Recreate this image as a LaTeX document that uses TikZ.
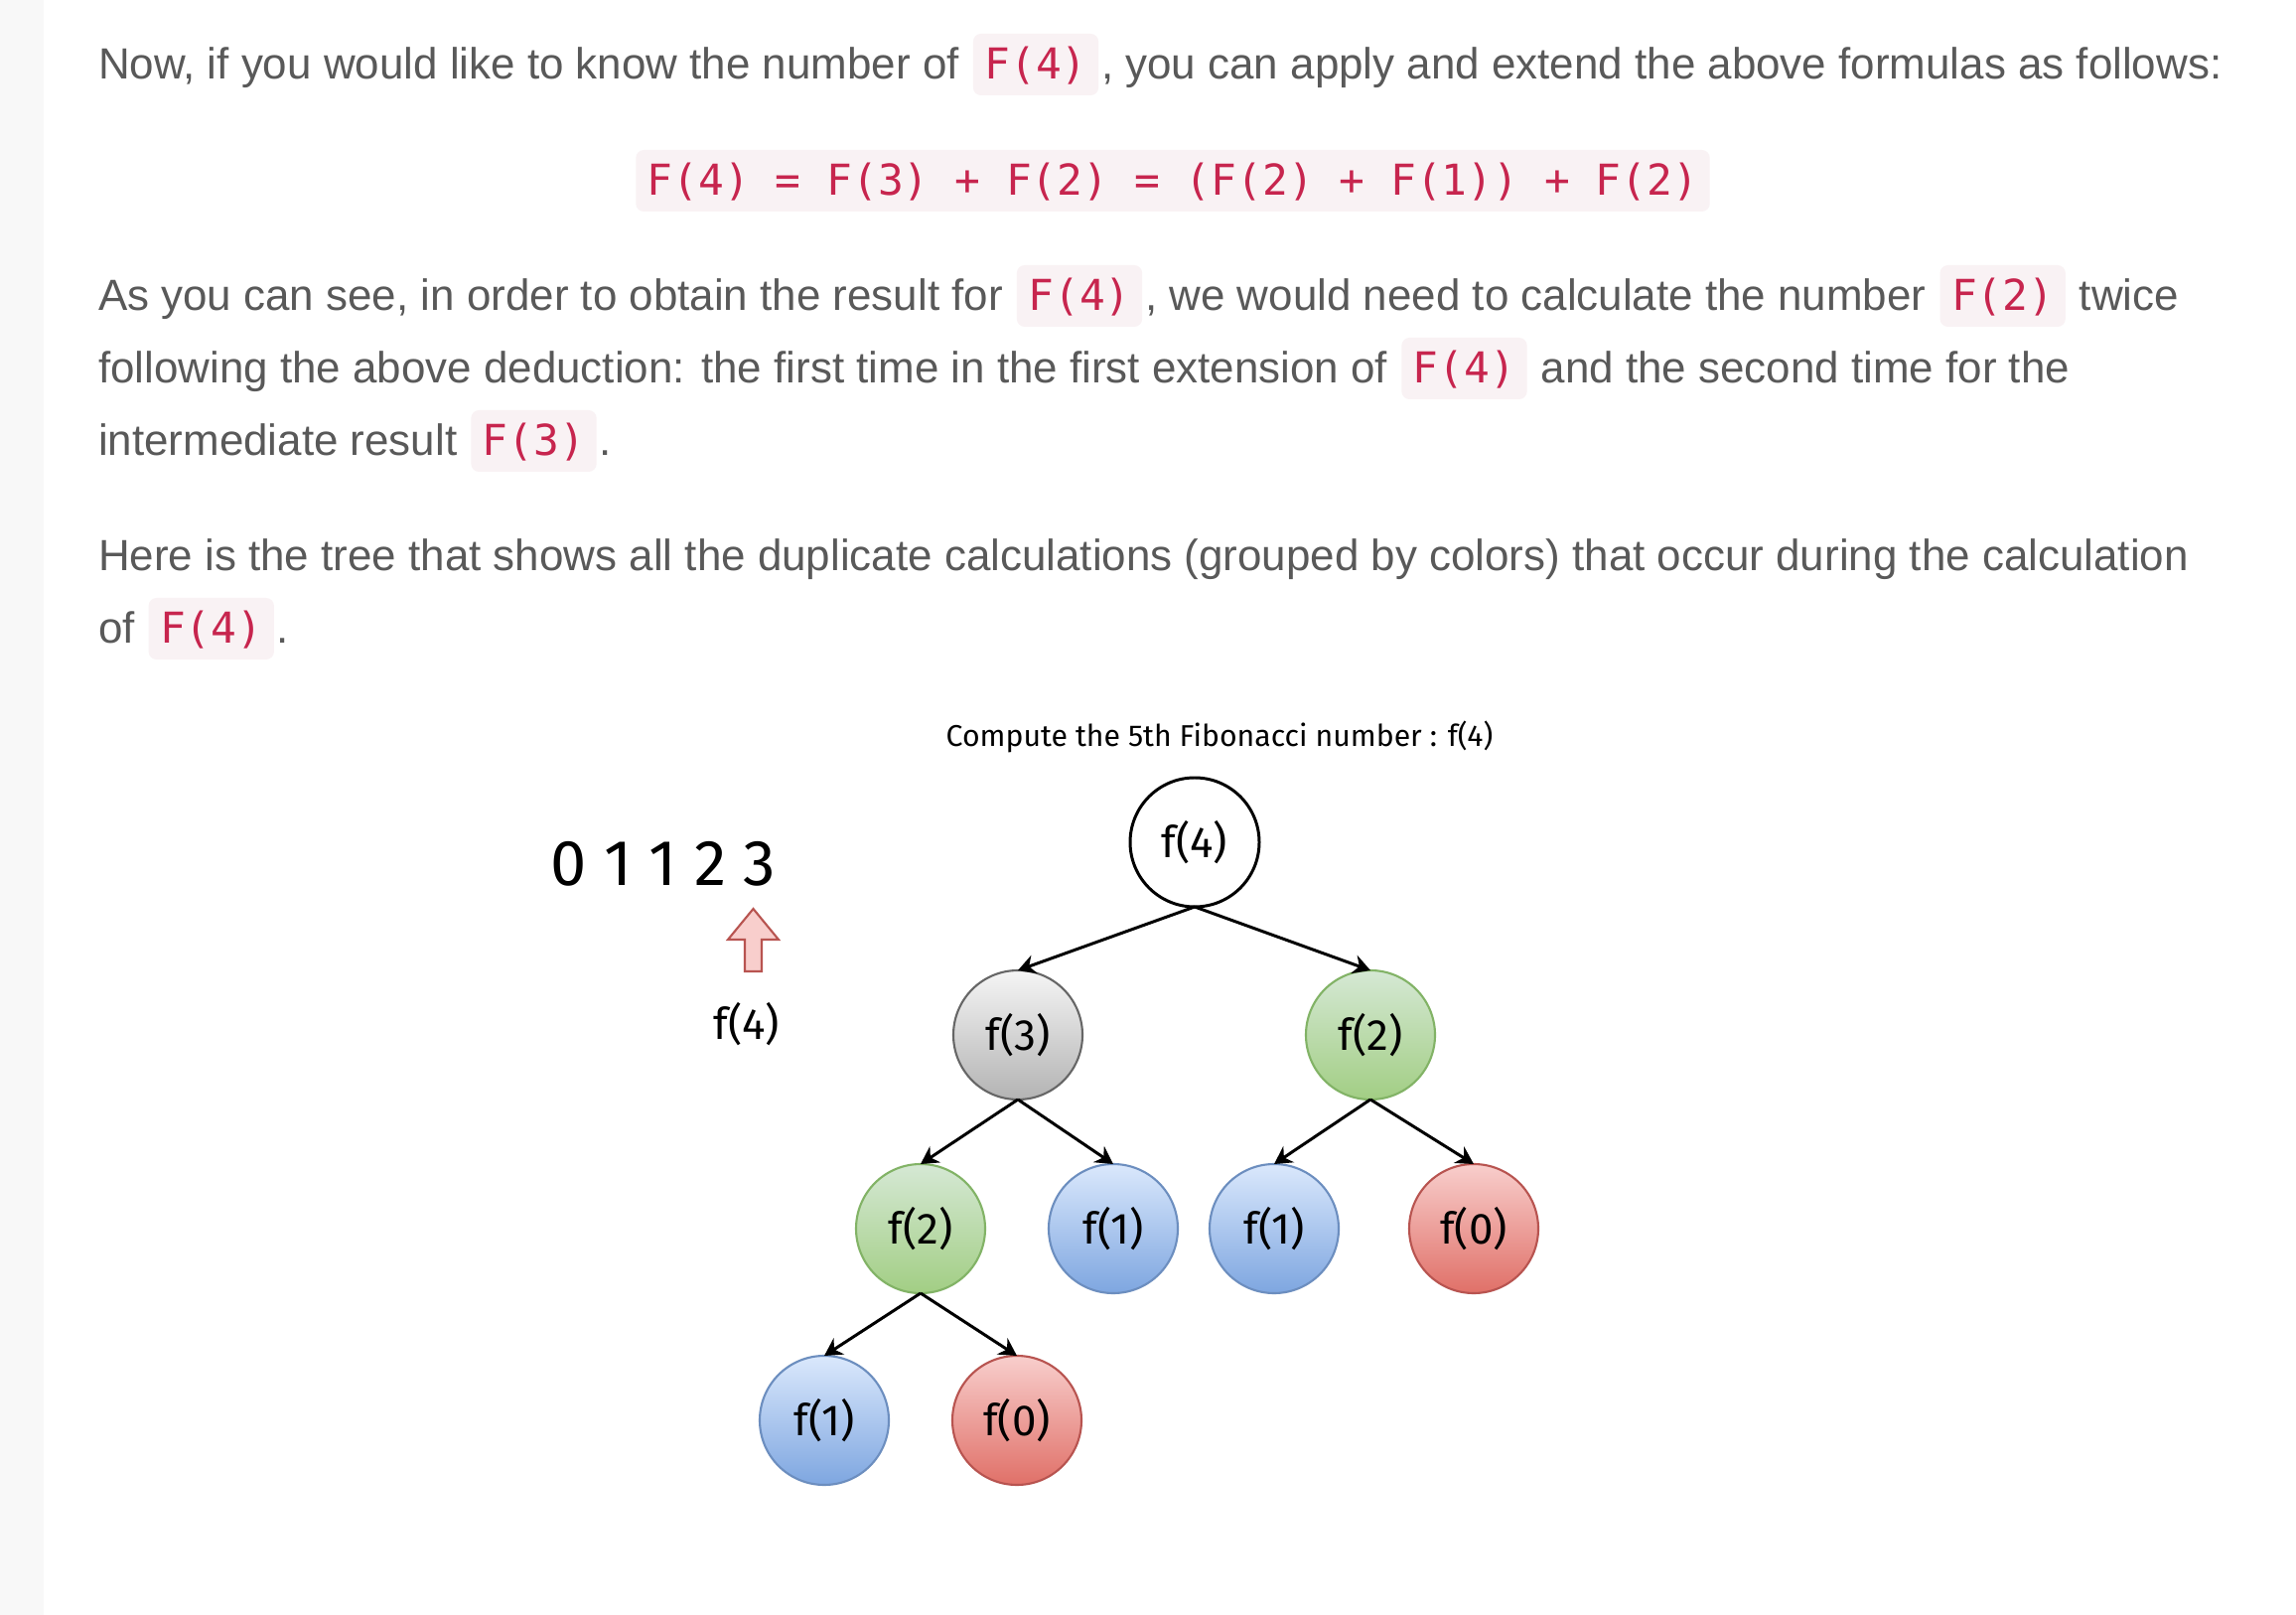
\documentclass[tikz,border=0pt]{standalone}
\usepackage{fontspec}
\setmainfont{Liberation Sans}
\setmonofont{DejaVu Sans Mono}
\newfontfamily\sketchfont{Fira Sans}
\usepackage{xcolor}
\usepackage{tikz}
\usetikzlibrary{positioning,arrows.meta,calc}

\definecolor{bodygray}{HTML}{595959}
\definecolor{codered}{HTML}{C7254E}
\definecolor{codebg}{HTML}{F9F2F4}
\definecolor{sidebar}{HTML}{F8F8F8}
\definecolor{greyline}{HTML}{666666}
\definecolor{greytop}{HTML}{F5F5F5}
\definecolor{greybot}{HTML}{B3B3B3}
\definecolor{greenline}{HTML}{82B366}
\definecolor{greentop}{HTML}{D5E8D4}
\definecolor{greenbot}{HTML}{A2CE84}
\definecolor{blueline}{HTML}{6C8EBF}
\definecolor{bluetop}{HTML}{DAE8FC}
\definecolor{bluebot}{HTML}{7EA6E0}
\definecolor{redline}{HTML}{B85450}
\definecolor{redtop}{HTML}{F8CECC}
\definecolor{redbot}{HTML}{E07068}

\begin{document}
\begin{tikzpicture}[
link/.style={-{Stealth[length=5pt,width=5.5pt]},line width=0.85pt},
every node/.style={outer sep=0pt}]

\tikzstyle{txt}=[inner sep=0pt, text=bodygray, font=\fontsize{12.5}{15}\selectfont]
\tikzstyle{code}=[fill=codebg, rounded corners=0.08cm, text=codered,
inner xsep=0.115cm, inner ysep=0pt, text height=0.46cm, text depth=0.16cm,
font=\ttfamily\fontsize{12.2}{15}\selectfont]
\tikzstyle{fib}=[circle, minimum size=1.3cm, inner sep=0pt, line width=0.6pt,
on grid, font=\sketchfont\fontsize{12.5}{14}\selectfont]
\tikzstyle{fibroot}=[fib, draw=black, fill=white, line width=0.85pt]
\tikzstyle{fibgrey}=[fib, draw=greyline, top color=greytop, bottom color=greybot]
\tikzstyle{fibgreen}=[fib, draw=greenline, top color=greentop, bottom color=greenbot]
\tikzstyle{fibblue}=[fib, draw=blueline, top color=bluetop, bottom color=bluebot]
\tikzstyle{fibred}=[fib, draw=redline, top color=redtop, bottom color=redbot]

\useasboundingbox (0,0) rectangle (23.12,-16.26);
\fill[white] (0,0) rectangle (23.12,-16.26);
\fill[sidebar] (0,0) rectangle (0.44,-16.26);

%text above the tree
\node[txt, anchor=base west] (l1a) at (0.99,-0.80) {Now, if you would like to know the number of};
\node[code, base right=0.14cm of l1a] (c1) {F(4)};
\node[txt, base right=0.03cm of c1] (l1b) {, you can apply and extend the above formulas as follows:};

\node[code, anchor=base] (fml) at (11.81,-1.97) {F(4) = F(3) + F(2) = (F(2) + F(1)) + F(2)};

\node[txt, anchor=base west] (l2a) at (0.99,-3.13) {As you can see, in order to obtain the result for};
\node[code, base right=0.14cm of l2a] (c2) {F(4)};
\node[txt, base right=0.03cm of c2] (l2b) {, we would need to calculate the number};
\node[code, base right=0.14cm of l2b] (c3) {F(2)};
\node[txt, base right=0.14cm of c3] (l2c) {twice};

\node[txt, anchor=base west] (l3a) at (0.99,-3.86) {following the above deduction: the first time in the first extension of};
\node[code, base right=0.14cm of l3a] (c4) {F(4)};
\node[txt, base right=0.14cm of c4] (l3b) {and the second time for the};

\node[txt, anchor=base west] (l4a) at (0.99,-4.59) {intermediate result};
\node[code, base right=0.14cm of l4a] (c5) {F(3)};
\node[txt, base right=0.03cm of c5] (l4b) {.};

\node[txt, anchor=base west] (l5a) at (0.99,-5.75) {Here is the tree that shows all the duplicate calculations (grouped by colors) that occur during the calculation};

\node[txt, anchor=base west] (l6a) at (0.99,-6.48) {of};
\node[code, base right=0.14cm of l6a] (c6) {F(4)};
\node[txt, base right=0.03cm of c6] (l6b) {.};

%the tree
\node[font=\sketchfont\fontsize{8.6}{10}\selectfont] (title) at (12.28,-7.42) {Compute the 5th Fibonacci number : f(4)};

\node[fibroot] (root) at (12.03,-8.48) {f(4)};
\node[fibgrey, below left=1.94cm and 1.78cm of root] (f3) {f(3)};
\node[fibgreen, below right=1.94cm and 1.77cm of root] (f2r) {f(2)};
\node[fibgreen, below left=1.95cm and 0.98cm of f3] (f2l) {f(2)};
\node[fibblue, below right=1.95cm and 0.96cm of f3] (f1a) {f(1)};
\node[fibblue, below left=1.95cm and 0.97cm of f2r] (f1b) {f(1)};
\node[fibred, below right=1.95cm and 1.04cm of f2r] (f0a) {f(0)};
\node[fibblue, below left=1.93cm and 0.97cm of f2l] (f1c) {f(1)};
\node[fibred, below right=1.93cm and 0.97cm of f2l] (f0b) {f(0)};

\foreach \a/\b in {root/f3, root/f2r, f3/f2l, f3/f1a, f2r/f1b, f2r/f0a, f2l/f1c, f2l/f0b}
  \draw[link] (\a.south) -- (\b.north);

%memo on the left
\node[font=\sketchfont\fontsize{18.5}{22}\selectfont] (seq) at (6.68,-8.70) {0 1 1 2 3};
\coordinate (tip) at (7.585,-9.15);
\draw[fill=redtop, draw=redline, line width=0.6pt] (tip) -- ++(0.255,-0.31) -- ++(-0.17,0)
  -- ++(0,-0.32) -- ++(-0.17,0) -- ++(0,0.32) -- ++(-0.17,0) -- cycle;
\node[font=\sketchfont\fontsize{12.5}{14}\selectfont] (cur) at (7.52,-10.31) {f(4)};

\end{tikzpicture}
\end{document}
